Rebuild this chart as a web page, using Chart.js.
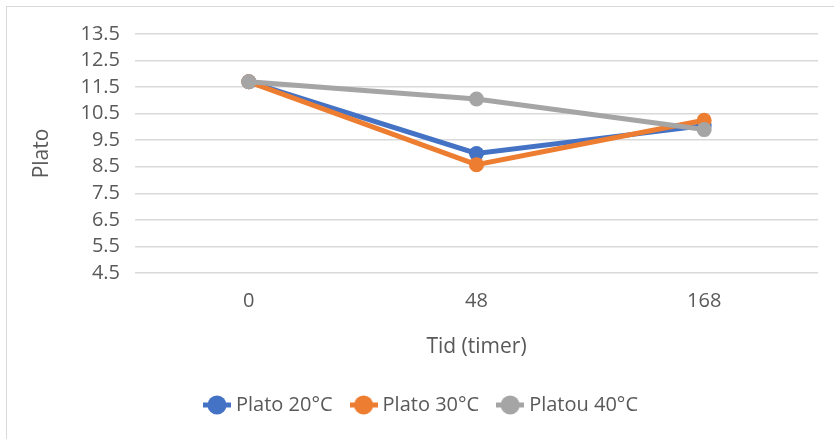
<!DOCTYPE html>
<html>
<head>
<meta charset="utf-8">
<script src="https://cdn.jsdelivr.net/npm/chart.js"></script>
<style>
  html, body { margin: 0; padding: 0; background: #ffffff; }
  #wrap { position: relative; width: 834px; height: 439px; }
</style>
</head>
<body>
<div id="wrap"><canvas id="chart" width="834" height="439"></canvas></div>
<script>
// --- data ---
const timeLabels = ['0', '48', '168'];
const plato20 = [11.7, 9.0, 10.05];
const plato30 = [11.7, 8.58, 10.25];
const platou40 = [11.7, 11.05, 9.9];
const yTicks = [4.5, 5.5, 6.5, 7.5, 8.5, 9.5, 10.5, 11.5, 12.5, 13.5];

const seriesNames = ['Plato 20°C', 'Plato 30°C', 'Platou 40°C'];
const seriesColors = ['#4472C4', '#ED7D31', '#A5A5A5'];

const textColor = '#595959';
const gridColor = '#D9D9D9';
const fontFamily = '"Open Sans", sans-serif';

// legend marker: short line with a dot on it, like Excel
function legendMarker(color) {
    const c = document.createElement('canvas');
    c.width = 28;
    c.height = 20;
    const g = c.getContext('2d');
    g.strokeStyle = color;
    g.lineWidth = 5;
    g.beginPath();
    g.moveTo(0, 10);
    g.lineTo(28, 10);
    g.stroke();
    g.fillStyle = color;
    g.beginPath();
    g.arc(14, 10, 9.5, 0, Math.PI * 2);
    g.fill();
    return c;
}

const markers = seriesColors.map(legendMarker);

function makeSet(i, values, order) {
    return {
        label: seriesNames[i],
        data: values,
        borderColor: seriesColors[i],
        backgroundColor: seriesColors[i],
        pointBackgroundColor: seriesColors[i],
        pointBorderColor: seriesColors[i],
        borderWidth: 5,
        pointRadius: 7.5,
        pointBorderWidth: 0,
        tension: 0,
        order: order
    };
}

// thin frame at the top-left like the source image
const framePlugin = {
    id: 'frame',
    beforeDraw(chart) {
        const ctx = chart.ctx;
        ctx.save();
        ctx.strokeStyle = gridColor;
        ctx.lineWidth = 1;
        ctx.strokeRect(6.5, 6.5, 1000, 1000);
        ctx.restore();
    }
};

// Excel centres the legend a little right of the canvas centre
const legendShift = {
    id: 'legendShift',
    afterLayout(chart) {
        if (chart.legend) {
            chart.legend.left += 14;
            chart.legend.right += 14;
        }
    }
};

new Chart(document.getElementById('chart').getContext('2d'), {
    type: 'line',
    data: {
        labels: timeLabels,
        datasets: [
            makeSet(0, plato20, 2),
            makeSet(1, plato30, 1),
            makeSet(2, platou40, 0)
        ]
    },
    plugins: [framePlugin, legendShift],
    options: {
        responsive: false,
        animation: false,
        layout: { padding: { top: 34, right: 16, bottom: 14, left: 0 } },
        plugins: {
            tooltip: { enabled: false },
            legend: {
                position: 'bottom',
                labels: {
                    color: textColor,
                    font: { family: fontFamily, size: 20 },
                    usePointStyle: true,
                    pointStyleWidth: 18,
                    padding: 22,
                    sort: (a, b) => a.datasetIndex - b.datasetIndex,
                    generateLabels(chart) {
                        return chart.data.datasets.map((ds, i) => ({
                            text: ds.label,
                            fillStyle: ds.borderColor,
                            strokeStyle: ds.borderColor,
                            fontColor: textColor,
                            lineWidth: 0,
                            pointStyle: markers[i],
                            hidden: false,
                            datasetIndex: i
                        }));
                    }
                }
            }
        },
        scales: {
            x: {
                offset: true,
                grid: { display: false },
                border: { display: false },
                ticks: {
                    color: textColor,
                    padding: 8,
                    font: { family: fontFamily, size: 20 }
                },
                title: {
                    display: true,
                    text: 'Tid (timer)',
                    color: textColor,
                    font: { family: fontFamily, size: 21 },
                    padding: { top: 0, bottom: 13 }
                },
                afterFit(scale) { scale.height = 100; }
            },
            y: {
                min: 4.5,
                max: 13.5,
                grid: { color: gridColor, lineWidth: 1.5, drawTicks: false },
                border: { display: false },
                afterBuildTicks(scale) {
                    scale.ticks = yTicks.map(v => ({ value: v }));
                },
                ticks: {
                    color: textColor,
                    padding: 15,
                    autoSkip: false,
                    font: { family: fontFamily, size: 20 },
                    callback: v => Number(v).toFixed(1)
                },
                title: {
                    display: true,
                    text: 'Plato',
                    color: textColor,
                    font: { family: fontFamily, size: 21 },
                    padding: { top: 29, bottom: 0 }
                },
                afterFit(scale) { scale.width = 135; }
            }
        }
    }
});
</script>
</body>
</html>
